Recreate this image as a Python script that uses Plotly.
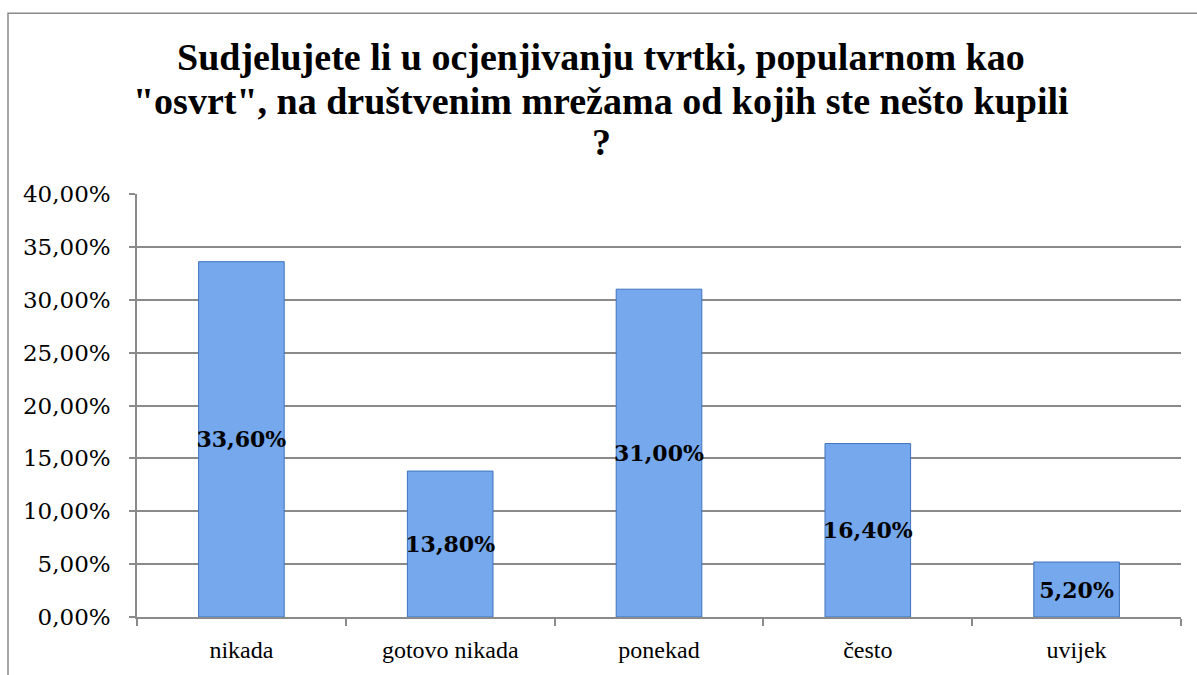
import plotly.graph_objects as go

categories = ["nikada", "gotovo nikada", "ponekad", "često", "uvijek"]
values = [0.336, 0.138, 0.310, 0.164, 0.052]
title_lines = [
    "Sudjelujete li u ocjenjivanju tvrtki, popularnom kao",
    "\"osvrt\", na društvenim mrežama od kojih ste nešto kupili",
    "?",
]
y_ticks = [0, 0.05, 0.10, 0.15, 0.20, 0.25, 0.30, 0.35, 0.40]

W, H = 1197, 675
L, R, T, B = 137, 16, 194, 55
PW, PH = W - L - R, H - T - B

fig = go.Figure()
fig.add_trace(go.Bar(
    x=categories,
    y=values,
    marker=dict(color="#75a8ec", line=dict(color="#3f73bf", width=1)),
    texttemplate="%{y:.2%}",
    textposition="inside",
    insidetextanchor="middle",
    constraintext="none",
    textangle=0,
    textfont=dict(family="DejaVu Serif", size=22, color="#000000", weight="bold"),
    hoverinfo="skip",
))

title_y_px = [56, 100, 142]
title_x_px = 601
for line, ypx in zip(title_lines, title_y_px):
    fig.add_annotation(
        text=line,
        xref="paper", yref="paper",
        x=(title_x_px - L) / PW, y=(H - B - ypx) / PH,
        xanchor="center", yanchor="middle",
        showarrow=False,
        font=dict(family="Liberation Serif", size=38,
                  color="#000000", weight="bold"),
    )

fig.update_layout(
    width=W,
    height=H,
    margin=dict(l=L, r=R, t=T, b=B),
    paper_bgcolor="white",
    plot_bgcolor="white",
    separators=",.",
    bargap=0.59,
    showlegend=False,
    xaxis=dict(
        type="category",
        showline=True,
        linecolor="#8a8a8a",
        linewidth=1.5,
        ticks="outside",
        tickson="boundaries",
        ticklen=7,
        tickcolor="#8a8a8a",
        tickwidth=1.5,
        showgrid=False,
        ticklabelstandoff=10,
        tickfont=dict(family="Liberation Serif", size=24, color="#000000"),
    ),
    yaxis=dict(
        range=[0, 0.40],
        tickvals=y_ticks,
        tickformat=".2%",
        showline=True,
        linecolor="#8a8a8a",
        linewidth=1.5,
        ticks="outside",
        ticklen=6,
        tickcolor="#8a8a8a",
        tickwidth=1.5,
        showgrid=True,
        gridcolor="#8a8a8a",
        gridwidth=1.5,
        zeroline=False,
        ticklabelstandoff=14,
        tickfont=dict(family="DejaVu Serif", size=23, color="#000000"),
    ),
)

fig.add_shape(
    type="rect", xref="paper", yref="paper",
    x0=(8 - L) / PW, x1=1.05, y0=-0.3, y1=(H - B - 12) / PH,
    line=dict(color="#8a8a8a", width=1.5), fillcolor="rgba(0,0,0,0)",
    layer="below",
)

fig.write_html(
    "out.html",
    config={"displayModeBar": False},
    post_script="document.body.style.margin='0';document.body.style.overflow='hidden';",
)
